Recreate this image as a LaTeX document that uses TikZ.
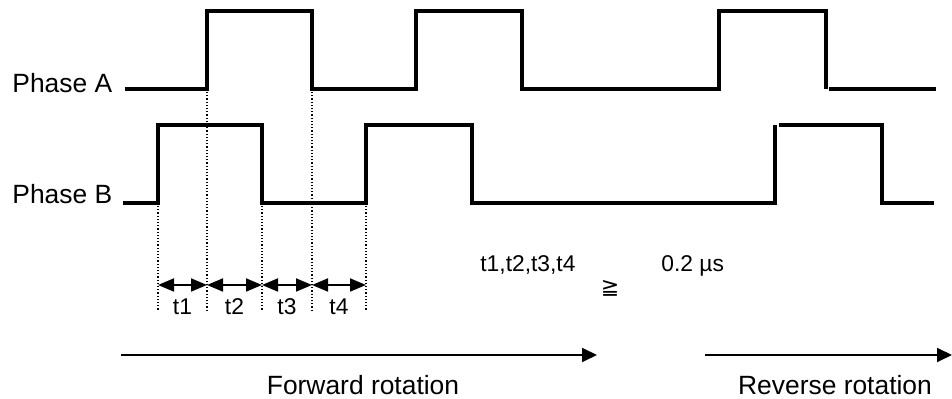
\documentclass[tikz,border=0pt]{standalone}
\usepackage{fontspec}
\setmainfont{Liberation Sans}
\newfontfamily\symFont{DejaVu Sans}
\usetikzlibrary{arrows.meta}
\newcommand{\bigText}[0]{\fontsize{13.2}{15}\selectfont}
\newcommand{\smallText}[0]{\fontsize{11.4}{13}\selectfont}

\begin{document}
\begin{tikzpicture}[x=0.5pt,y=-0.5pt]
  \tikzset{signal/.style={line width=1.6pt},
    marker/.style={densely dotted,line width=0.6pt},
    interval/.style={{Triangle[length=8pt,width=6.5pt]}-{Triangle[length=8pt,width=6.5pt]},line width=0.9pt},
    direction/.style={-{Triangle[length=7.5pt,width=7pt]},line width=0.9pt},
    caption/.style={inner sep=0pt}}
  \useasboundingbox (0,0) rectangle (952,399);
  \node[caption,anchor=base west,font=\bigText] (phaseA) at (12,93) {Phase A};
  \node[caption,anchor=base west,font=\bigText] (phaseB) at (12,204) {Phase B};
  \draw[signal] (125,89) -- (207,89) -- (207,11) -- (312,11) -- (312,89) -- (416,89)
    -- (416,11) -- (522,11) -- (522,89) -- (719,89) -- (719,11) -- (826,11) -- (826,89);
  \draw[signal] (829,89) -- (936,89);
  \draw[signal] (123,203) -- (158,203) -- (158,125) -- (262,125) -- (262,203) -- (366,203)
    -- (366,125) -- (472,125) -- (472,203) -- (775,203) -- (775,125);
  \draw[signal] (779,125) -- (882,125) -- (882,203) -- (934,203);
  \foreach \x/\top [count=\i] in {158/206,207/92,262/206,312/92,366/206}{
    \coordinate (top\i) at (\x,\top);
    \coordinate (bot\i) at (\x,311);
    \coordinate (m\i) at (\x,285);
    \draw[marker] (top\i) -- (bot\i);
  }
  \foreach \i [evaluate=\i as \j using int(\i+1)] in {1,...,4}{
    \draw[interval] (m\i) -- (m\j);
    \path (m\i) -- (m\j) node[caption,midway,font=\smallText,yshift=-11pt] (t\i) {t\i};
  }
  \node[caption,anchor=base west,font=\smallText] (cond) at (480,272) {t1,t2,t3,t4};
  \node[caption,font=\symFont\fontsize{11}{13}\selectfont] (geq) at (610,288) {≧};
  \node[caption,anchor=base west,font=\smallText] (limit) at (661,272) {0.2 µs};
  \coordinate (fwdstart) at (121,355);
  \coordinate (fwdend) at (597,355);
  \coordinate (revstart) at (705,355);
  \coordinate (revend) at (952,355);
  \draw[direction] (fwdstart) -- (fwdend);
  \draw[direction] (revstart) -- (revend);
  \node[caption,anchor=base,font=\bigText] (forward) at (363,395) {Forward rotation};
  \node[caption,anchor=base,font=\bigText] (reverse) at (835,395) {Reverse rotation};
\end{tikzpicture}
\end{document}
